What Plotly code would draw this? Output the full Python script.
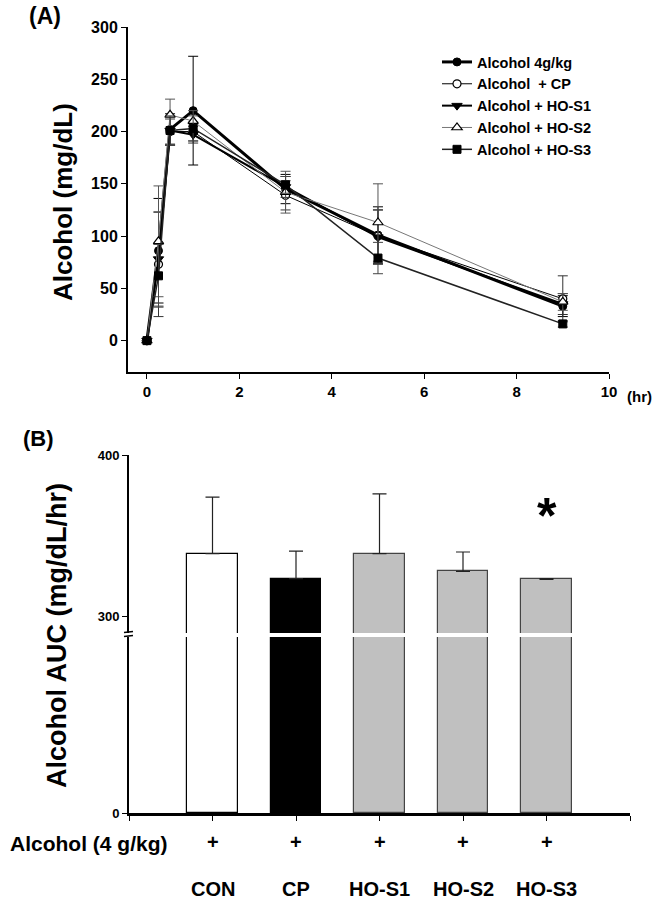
import plotly.graph_objects as go

# ---------------- data: panel A (alcohol concentration vs time) ----------------
time_hr = [0, 0.25, 0.5, 1, 3, 5, 9]
series_names = ["Alcohol 4g/kg", "Alcohol  + CP", "Alcohol + HO-S1", "Alcohol + HO-S2", "Alcohol + HO-S3"]
alc_4g = [0, 86, 202, 220, 145, 101, 33]
alc_4g_err = [0, 50, 15, 52, 14, 27, 10]
alc_cp = [0, 73, 200, 200, 139, 100, 40]
alc_cp_err = [0, 50, 12, 9, 14, 25, 22]
alc_s1 = [0, 78, 201, 197, 147, 99, 35]
alc_s1_err = [0, 45, 14, 8, 10, 26, 10]
alc_s2 = [0, 95, 216, 210, 142, 113, 37]
alc_s2_err = [0, 53, 15, 10, 20, 37, 8]
alc_s3 = [0, 62, 201, 203, 149, 79, 16]
alc_s3_err = [0, 30, 14, 12, 8, 15, 3]
x_ticks_a = [0, 2, 4, 6, 8, 10]
y_ticks_a = [0, 50, 100, 150, 200, 250, 300]

# ---------------- data: panel B (AUC) ----------------
groups = ["CON", "CP", "HO-S1", "HO-S2", "HO-S3"]
auc = [339, 323.5, 339, 328, 323]
auc_err = [35, 17, 37, 12, 0.6]
alcohol_dose = ["+", "+", "+", "+", "+"]
significance = ["", "", "", "", "*"]

FONT = "Arial, Liberation Sans, sans-serif"
W, H = 671, 903


def px(v):  # page pixel x -> paper
    return v / W


def py(v):  # page pixel y (from top) -> paper
    return 1 - v / H


fig = go.Figure()

styles = [
    dict(data=alc_4g, err=alc_4g_err, lw=3, lc="black", sym="circle", mc="black", ml=1, ms=8, ec="black"),
    dict(data=alc_cp, err=alc_cp_err, lw=1, lc="black", sym="circle", mc="white", ml=1.2, ms=8, ec="#333"),
    dict(data=alc_s1, err=alc_s1_err, lw=2, lc="black", sym="triangle-down", mc="black", ml=1, ms=9, ec="#333"),
    dict(data=alc_s2, err=alc_s2_err, lw=1, lc="#777", sym="triangle-up", mc="white", ml=1.2, ms=9, ec="#555"),
    dict(data=alc_s3, err=alc_s3_err, lw=1.5, lc="#222", sym="square", mc="black", ml=1, ms=8, ec="#444"),
]
for name, st in zip(series_names, styles):
    fig.add_trace(go.Scatter(
        x=time_hr, y=st["data"], name=name, mode="lines+markers",
        line=dict(color=st["lc"], width=st["lw"]),
        marker=dict(symbol=st["sym"], color=st["mc"], size=st["ms"],
                    line=dict(color="black", width=st["ml"])),
        error_y=dict(type="data", array=st["err"], visible=True,
                     color=st["ec"], thickness=1, width=5),
        xaxis="x", yaxis="y", cliponaxis=False,
    ))

# Panel B: lower segment (broken axis) and upper segment
bar_x = list(range(len(groups)))
bar_fill = ["white", "black", "#C0C0C0", "#C0C0C0", "#C0C0C0"]
bar_line = ["black", "black", "#444", "#444", "#444"]
fig.add_trace(go.Bar(
    x=bar_x, y=auc, width=0.6, marker=dict(color=bar_fill, line=dict(color=bar_line, width=1.2)),
    xaxis="x2", yaxis="y2", showlegend=False,
))
fig.add_trace(go.Bar(
    x=bar_x, y=auc, width=0.6, marker=dict(color=bar_fill, line=dict(color=bar_line, width=1.2)),
    error_y=dict(type="data", symmetric=False, array=auc_err, arrayminus=[0] * len(auc),
                 color="#222", thickness=1.2, width=7),
    xaxis="x3", yaxis="y3", showlegend=False,
))

axis_common = dict(showgrid=False, zeroline=False, showline=True, linecolor="black",
                   ticks="outside", tickcolor="black", automargin=False)

fig.update_layout(
    width=W, height=H, margin=dict(l=0, r=0, t=0, b=0, pad=0, autoexpand=False),
    paper_bgcolor="white", plot_bgcolor="white",
    font=dict(family=FONT, color="black"),
    xaxis=dict(**axis_common, domain=[px(128), px(609)], range=[-0.41, 10], anchor="y",
               tickvals=x_ticks_a, ticklen=5, linewidth=2,
               tickfont=dict(size=15, weight="bold", family=FONT)),
    yaxis=dict(**axis_common, domain=[py(372), py(27)], range=[-30, 300], anchor="x",
               tickvals=y_ticks_a, ticklen=5, linewidth=2,
               tickfont=dict(size=16, weight="bold", family=FONT)),
    xaxis2=dict(**axis_common, domain=[px(129), px(630)], range=[-1, 5], anchor="y2",
                showticklabels=False, linewidth=2.5),
    yaxis2=dict(**axis_common, domain=[py(813), py(637)], range=[0, 289], anchor="x2",
                tickvals=[0], ticklen=5, linewidth=2,
                tickfont=dict(size=13, weight="bold", family=FONT)),
    xaxis3=dict(domain=[px(129), px(630)], range=[-1, 5], anchor="y3", visible=False),
    yaxis3=dict(**axis_common, domain=[py(633), py(455)], range=[289.9, 400], anchor="x3",
                tickvals=[300, 400], ticklen=5, linewidth=2,
                tickfont=dict(size=13, weight="bold", family=FONT)),
    legend=dict(x=px(437), y=py(46), xanchor="left", yanchor="top",
                bgcolor="rgba(0,0,0,0)", font=dict(size=14.5, weight="bold", family=FONT),
                tracegroupgap=0, itemwidth=30),
    bargap=0,
)


def pann(text, x, y, size, xanchor="center", yanchor="middle", angle=0):
    return dict(text=text, x=px(x), y=py(y), xref="paper", yref="paper", showarrow=False,
                xanchor=xanchor, yanchor=yanchor, textangle=angle,
                font=dict(size=size, weight="bold", family=FONT))


ann = [
    pann("(A)", 45, 16, 23),
    pann("(B)", 38, 438, 22),
    pann("(hr)", 625, 396, 15, xanchor="left"),
    pann("Alcohol (mg/dL)", 63, 202, 26, angle=-90),
    pann("Alcohol AUC (mg/dL/hr)", 57, 636, 27, angle=-90),
    pann("Alcohol (4 g/kg)", 8, 843, 21, xanchor="left"),
]
for i, g in enumerate(groups):
    ann.append(dict(text=alcohol_dose[i], x=i, y=py(842), xref="x2", yref="paper", showarrow=False,
                    xanchor="center", yanchor="middle",
                    font=dict(size=20, weight="bold", family=FONT)))
    ann.append(dict(text=g, x=i, y=py(889), xref="x2", yref="paper", showarrow=False,
                    xanchor="center", yanchor="middle",
                    font=dict(size=20, weight="bold", family=FONT)))
    if significance[i]:
        ann.append(dict(text=significance[i], x=i, y=auc[i] + 39, xref="x3", yref="y3",
                        showarrow=False, xanchor="center", yanchor="middle",
                        font=dict(size=50, weight="bold", family=FONT)))
fig.update_layout(annotations=ann)

# axis break marks
for yy in (632, 636):
    fig.add_shape(type="line", xref="paper", yref="paper", x0=px(124), x1=px(133),
                  y0=py(yy + 0.5), y1=py(yy - 0.5), line=dict(color="black", width=1.5))

# remove the default 8px page margin so the figure fills the window exactly
fig.write_html("out.html", config={"displayModeBar": False},
               post_script="document.body.style.margin='0';")
